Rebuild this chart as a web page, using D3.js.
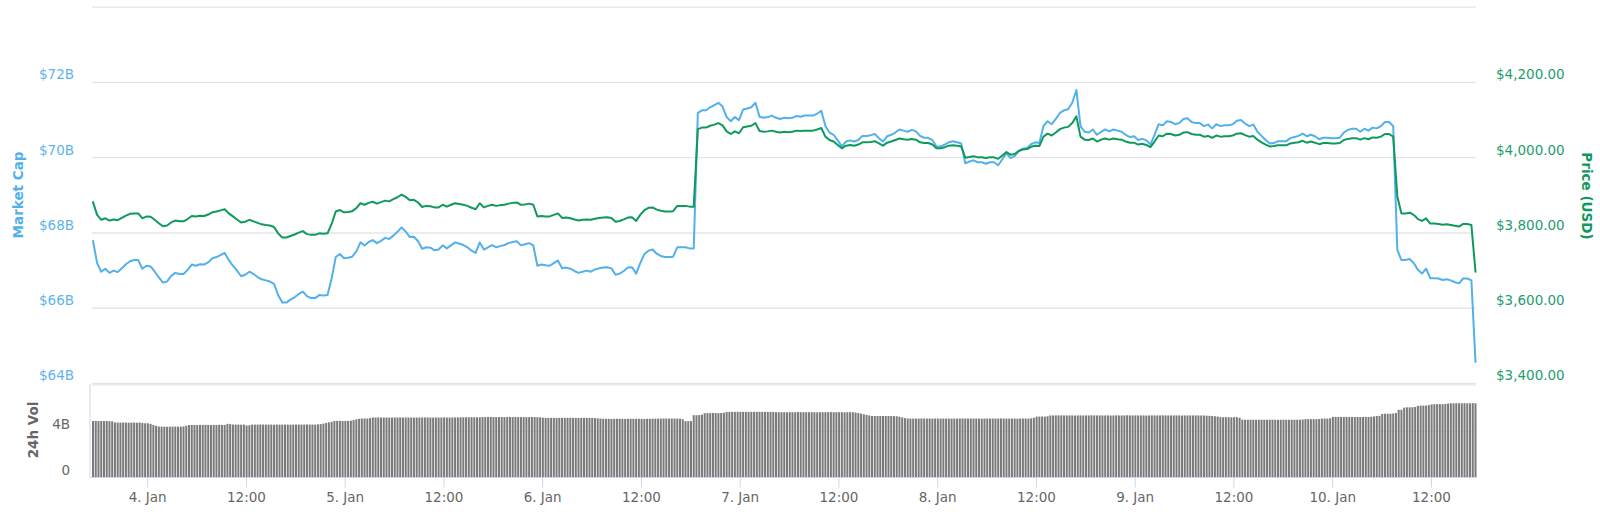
<!DOCTYPE html>
<html><head><meta charset="utf-8">
<script src="https://cdn.jsdelivr.net/npm/d3@7"></script>
<style>body{margin:0;background:#fff} svg{display:block}</style>
</head><body><svg id="c" width="1600" height="512"></svg>
<script>
const seriesStart = "2019-01-03T17:25:00Z";
const lineStepMinutes = 30;
const volStepMinutes = 20;

const priceUSD = [
3882,3848,3835,3839,3833,3836,3834,3840,3846,3851,
3852,3852,3839,3844,3843,3835,3826,3818,3820,3828,
3833,3831,3831,3837,3845,3844,3846,3845,3849,3855,
3857,3860,3863,3852,3844,3836,3828,3830,3835,3831,
3827,3823,3821,3820,3816,3799,3788,3788,3792,3796,
3801,3805,3797,3795,3795,3799,3798,3799,3824,3857,
3861,3855,3856,3858,3866,3879,3875,3880,3883,3878,
3882,3886,3884,3890,3895,3902,3896,3887,3888,3881,
3869,3872,3871,3868,3868,3875,3870,3875,3879,3877,
3875,3872,3867,3863,3879,3868,3872,3875,3872,3874,
3875,3878,3880,3881,3875,3876,3878,3875,3844,3845,
3844,3844,3848,3852,3840,3841,3839,3836,3833,3835,
3836,3835,3838,3840,3841,3842,3840,3830,3832,3836,
3841,3842,3832,3848,3861,3867,3868,3862,3859,3857,
3857,3858,3872,3872,3872,3870,3870,4076,4080,4080,
4085,4088,4092,4086,4070,4063,4070,4065,4081,4083,
4085,4092,4071,4069,4070,4072,4069,4067,4069,4068,
4069,4072,4071,4072,4072,4072,4075,4079,4056,4047,
4043,4034,4025,4032,4034,4032,4035,4041,4041,4042,
4044,4038,4032,4040,4043,4047,4051,4049,4048,4050,
4048,4041,4039,4039,4035,4025,4025,4028,4032,4033,
4032,4030,4000,4002,4004,4001,4001,3999,4001,4001,
3997,4006,4015,4008,4010,4018,4022,4023,4029,4032,
4031,4056,4064,4059,4067,4076,4080,4082,4092,4110,
4056,4048,4047,4051,4043,4048,4051,4048,4051,4049,
4048,4043,4040,4040,4035,4037,4034,4028,4043,4059,
4057,4064,4063,4059,4061,4067,4068,4063,4061,4061,
4056,4058,4053,4059,4056,4057,4057,4059,4064,4065,
4060,4056,4058,4048,4041,4035,4030,4031,4033,4033,
4033,4038,4040,4041,4045,4040,4043,4040,4036,4039,
4039,4038,4038,4039,4047,4050,4052,4052,4048,4052,
4049,4054,4053,4056,4063,4063,4056,3897,3852,3852,
3854,3848,3837,3832,3839,3825,3825,3824,3822,3823,
3821,3819,3817,3824,3824,3821,3697
];

const marketCapB = [
67.79,67.20,66.97,67.05,66.94,67.00,66.96,67.06,67.17,67.25,
67.28,67.28,67.05,67.13,67.11,66.97,66.82,66.68,66.71,66.86,
66.94,66.91,66.91,67.02,67.16,67.13,67.17,67.16,67.22,67.33,
67.36,67.41,67.47,67.28,67.13,67.00,66.85,66.89,66.97,66.91,
66.83,66.77,66.74,66.71,66.65,66.35,66.15,66.15,66.23,66.29,
66.38,66.44,66.32,66.27,66.27,66.35,66.34,66.35,66.79,67.36,
67.44,67.33,67.34,67.37,67.51,67.75,67.67,67.76,67.81,67.73,
67.79,67.87,67.84,67.93,68.03,68.15,68.04,67.89,67.90,67.78,
67.58,67.62,67.61,67.54,67.56,67.67,67.59,67.67,67.75,67.72,
67.68,67.62,67.53,67.47,67.75,67.56,67.62,67.68,67.62,67.65,
67.68,67.73,67.76,67.78,67.67,67.70,67.73,67.67,67.13,67.16,
67.14,67.13,67.20,67.27,67.06,67.08,67.05,66.99,66.94,66.97,
67.00,66.97,67.03,67.06,67.08,67.09,67.06,66.89,66.92,66.99,
67.08,67.09,66.92,67.20,67.44,67.53,67.56,67.45,67.39,67.36,
67.36,67.37,67.62,67.62,67.62,67.59,67.59,71.19,71.26,71.26,
71.34,71.40,71.46,71.36,71.08,70.97,71.08,71.00,71.28,71.31,
71.34,71.46,71.09,71.06,71.08,71.12,71.06,71.03,71.06,71.05,
71.06,71.11,71.09,71.12,71.12,71.12,71.17,71.25,70.84,70.67,
70.61,70.46,70.30,70.43,70.46,70.43,70.47,70.58,70.58,70.60,
70.63,70.52,70.43,70.57,70.61,70.67,70.75,70.72,70.69,70.74,
70.70,70.58,70.53,70.53,70.47,70.30,70.30,70.35,70.41,70.44,
70.41,70.38,69.85,69.90,69.93,69.88,69.88,69.84,69.88,69.88,
69.80,69.96,70.12,69.99,70.04,70.18,70.24,70.26,70.36,70.41,
70.39,70.84,70.97,70.89,71.03,71.19,71.26,71.29,71.46,71.80,
70.84,70.69,70.67,70.75,70.61,70.69,70.75,70.70,70.75,70.72,
70.69,70.61,70.55,70.57,70.47,70.50,70.46,70.35,70.61,70.89,
70.86,70.97,70.95,70.89,70.92,71.03,71.05,70.95,70.92,70.92,
70.84,70.88,70.78,70.89,70.84,70.86,70.86,70.89,70.98,71.00,
70.91,70.84,70.88,70.69,70.58,70.47,70.38,70.39,70.44,70.44,
70.44,70.52,70.55,70.58,70.64,70.57,70.61,70.57,70.49,70.53,
70.53,70.52,70.52,70.53,70.67,70.74,70.77,70.77,70.69,70.77,
70.72,70.80,70.78,70.84,70.95,70.95,70.84,67.55,67.28,67.28,
67.31,67.20,67.02,66.92,67.05,66.80,66.80,66.79,66.75,66.77,
66.74,66.69,66.66,66.79,66.79,66.74,64.57
];

const volumeB = [
4.87,4.88,4.87,4.87,4.86,4.87,4.86,4.84,4.74,4.73,
4.73,4.74,4.73,4.72,4.73,4.73,4.72,4.74,4.70,4.67,
4.67,4.62,4.52,4.45,4.39,4.38,4.38,4.37,4.38,4.38,
4.39,4.38,4.38,4.40,4.46,4.52,4.53,4.53,4.52,4.53,
4.53,4.54,4.53,4.52,4.53,4.53,4.54,4.53,4.53,4.62,
4.60,4.56,4.56,4.56,4.55,4.56,4.48,4.50,4.56,4.56,
4.56,4.57,4.56,4.56,4.56,4.56,4.55,4.56,4.56,4.56,
4.56,4.56,4.55,4.56,4.56,4.56,4.56,4.56,4.57,4.56,
4.56,4.56,4.58,4.60,4.64,4.70,4.75,4.80,4.87,4.88,
4.88,4.87,4.88,4.88,4.90,4.95,5.02,5.06,5.08,5.09,
5.08,5.12,5.17,5.17,5.18,5.17,5.17,5.17,5.16,5.17,
5.17,5.17,5.18,5.17,5.17,5.17,5.17,5.16,5.17,5.17,
5.17,5.18,5.17,5.17,5.17,5.17,5.17,5.17,5.18,5.17,
5.17,5.17,5.18,5.18,5.19,5.19,5.19,5.19,5.20,5.19,
5.19,5.19,5.21,5.21,5.21,5.22,5.21,5.21,5.21,5.21,
5.21,5.21,5.22,5.21,5.21,5.21,5.21,5.20,5.21,5.21,
5.21,5.21,5.20,5.19,5.15,5.14,5.14,5.14,5.13,5.14,
5.14,5.14,5.14,5.15,5.14,5.14,5.14,5.13,5.14,5.14,
5.14,5.14,5.13,5.12,5.10,5.08,5.06,5.06,5.06,5.05,
5.06,5.06,5.06,5.06,5.05,5.06,5.06,5.06,5.06,5.06,
5.06,5.05,5.06,5.06,5.07,5.07,5.07,5.08,5.08,5.08,
5.08,5.08,5.08,5.08,5.06,5.02,4.85,4.85,4.86,5.37,
5.37,5.38,5.42,5.55,5.55,5.55,5.56,5.55,5.55,5.56,
5.58,5.66,5.66,5.66,5.66,5.67,5.66,5.66,5.66,5.66,
5.66,5.67,5.66,5.66,5.66,5.66,5.65,5.66,5.65,5.63,
5.63,5.63,5.63,5.62,5.63,5.63,5.63,5.64,5.63,5.63,
5.63,5.63,5.63,5.63,5.62,5.63,5.63,5.63,5.63,5.64,
5.63,5.63,5.63,5.63,5.62,5.63,5.63,5.63,5.60,5.56,
5.50,5.45,5.40,5.35,5.30,5.30,5.30,5.31,5.30,5.30,
5.30,5.30,5.29,5.28,5.24,5.18,5.12,5.08,5.08,5.08,
5.08,5.08,5.09,5.08,5.08,5.08,5.07,5.08,5.08,5.08,
5.08,5.08,5.08,5.07,5.08,5.08,5.08,5.09,5.08,5.08,
5.08,5.08,5.08,5.08,5.07,5.08,5.08,5.08,5.08,5.08,
5.08,5.09,5.08,5.08,5.08,5.08,5.08,5.07,5.08,5.08,
5.08,5.08,5.10,5.15,5.25,5.25,5.26,5.25,5.28,5.35,
5.35,5.35,5.35,5.36,5.35,5.35,5.35,5.35,5.34,5.35,
5.35,5.35,5.35,5.35,5.36,5.35,5.35,5.35,5.35,5.35,
5.35,5.34,5.35,5.35,5.35,5.35,5.35,5.36,5.35,5.35,
5.35,5.35,5.35,5.35,5.34,5.35,5.35,5.35,5.35,5.35,
5.36,5.35,5.35,5.35,5.35,5.35,5.35,5.34,5.35,5.35,
5.35,5.35,5.35,5.35,5.35,5.34,5.33,5.32,5.30,5.28,
5.25,5.20,5.20,5.20,5.20,5.19,5.20,5.20,5.15,4.99,
4.98,4.98,4.98,4.98,4.97,4.98,4.98,4.98,4.98,4.98,
4.98,4.98,4.97,4.98,4.98,4.98,4.98,4.98,4.98,4.98,
4.98,5.00,5.03,5.03,5.03,5.03,5.03,5.04,5.08,5.08,
5.08,5.10,5.22,5.22,5.22,5.22,5.22,5.23,5.22,5.22,
5.22,5.22,5.22,5.22,5.22,5.22,5.24,5.26,5.30,5.32,
5.48,5.50,5.50,5.50,5.52,5.55,5.84,5.84,6.02,6.05,
6.05,6.06,6.08,6.18,6.20,6.20,6.21,6.24,6.30,6.32,
6.32,6.33,6.32,6.34,6.38,6.40,6.40,6.41,6.40,6.40,
6.41,6.40,6.40,6.42,6.40
];

const capTicks = [64, 66, 68, 70, 72, 74];
const capLabelTicks = [64, 66, 68, 70, 72];
const priceTicks = [3400, 3600, 3800, 4000, 4200, 4400];
const priceLabelTicks = [3400, 3600, 3800, 4000, 4200];
const volTicks = [0, 4, 8];
const volLabelTicks = [0, 4];
const xTickTimes = [
  "2019-01-04T00:00:00Z","2019-01-04T12:00:00Z","2019-01-05T00:00:00Z","2019-01-05T12:00:00Z",
  "2019-01-06T00:00:00Z","2019-01-06T12:00:00Z","2019-01-07T00:00:00Z","2019-01-07T12:00:00Z",
  "2019-01-08T00:00:00Z","2019-01-08T12:00:00Z","2019-01-09T00:00:00Z","2019-01-09T12:00:00Z",
  "2019-01-10T00:00:00Z","2019-01-10T12:00:00Z"
];
const xTickLabels = ["4. Jan","12:00","5. Jan","12:00","6. Jan","12:00","7. Jan","12:00",
  "8. Jan","12:00","9. Jan","12:00","10. Jan","12:00"];

// ---- layout / style ----
const FONT = "'DejaVu Sans', Verdana, sans-serif";
const FS = 13.5;
const BLUE = "#52b0ea", BLUE_T = "#5fb4ec";
const GREEN = "#0e9a5c", GREEN_T = "#1f9d6c";
const GRID = "#e6e6e6", AXIS = "#ccd6eb", TXT = "#666";

const svg = d3.select("#c");
const t0 = new Date(seriesStart).getTime();
const lineTimes = priceUSD.map((_, i) => new Date(t0 + i * lineStepMinutes * 60000));
const volTimes = volumeB.map((_, i) => new Date(t0 + i * volStepMinutes * 60000));

const x = d3.scaleUtc()
  .domain([lineTimes[0], lineTimes[lineTimes.length - 1]])
  .range([93, 1475.5]);
const gridX0 = 92, gridX1 = 1476;

const yCap = d3.scaleLinear().domain([64, 74]).range([383.5, 7.2]);
const yPrice = d3.scaleLinear().domain([3400, 4400]).range([383.5, 7.2]);
const yVol = d3.scaleLinear().domain([0, 8]).range([477.3, 384.8]);

// gridlines main pane
svg.append("g").selectAll("line").data(capTicks).join("line")
  .attr("x1", gridX0).attr("x2", gridX1)
  .attr("y1", d => yCap(d)).attr("y2", d => yCap(d))
  .attr("stroke", GRID).attr("stroke-width", 1.3);

// gridlines volume pane
svg.append("g").selectAll("line").data(volTicks.filter(v => v > 0)).join("line")
  .attr("x1", gridX0).attr("x2", gridX1)
  .attr("y1", d => yVol(d)).attr("y2", d => yVol(d))
  .attr("stroke", GRID).attr("stroke-width", 1.3);

// volume bars
const barW = 2.0;
svg.append("g").selectAll("rect").data(volumeB).join("rect")
  .attr("x", (d, i) => x(volTimes[i]) - barW / 2)
  .attr("width", barW)
  .attr("y", d => yVol(d))
  .attr("height", d => yVol(0) - yVol(d))
  .attr("fill", "#7a7a7a");

// volume pane left axis line & bottom axis line
svg.append("line").attr("x1", 90).attr("x2", 90).attr("y1", 384).attr("y2", 477.5)
  .attr("stroke", AXIS).attr("stroke-width", 1);

// lines
const capLine = d3.line().x((d, i) => x(lineTimes[i])).y(d => yCap(d));
const priceLine = d3.line().x((d, i) => x(lineTimes[i])).y(d => yPrice(d));
svg.append("path").datum(marketCapB).attr("d", capLine)
  .attr("fill", "none").attr("stroke", BLUE).attr("stroke-width", 2)
  .attr("stroke-linejoin", "round").attr("stroke-linecap", "round");
svg.append("path").datum(priceUSD).attr("d", priceLine)
  .attr("fill", "none").attr("stroke", GREEN).attr("stroke-width", 2)
  .attr("stroke-linejoin", "round").attr("stroke-linecap", "round");

// x axis
const xAxis = d3.axisBottom(x)
  .tickValues(xTickTimes.map(s => new Date(s)))
  .tickSize(10).tickSizeOuter(0)
  .tickFormat((d, i) => xTickLabels[i]);
const gx = svg.append("g").attr("transform", "translate(0,477.5)").call(xAxis);
gx.select(".domain").remove();
gx.selectAll(".tick line").attr("stroke", AXIS);
gx.selectAll(".tick text").attr("y", 15).attr("fill", TXT)
  .style("font-family", FONT).style("font-size", FS + "px");
svg.append("line").attr("x1", 90).attr("x2", gridX1).attr("y1", 477.5).attr("y2", 477.5)
  .attr("stroke", AXIS).attr("stroke-width", 1);

// left axis (market cap)
const capAxis = d3.axisLeft(yCap).tickValues(capLabelTicks).tickSize(0)
  .tickFormat(d => "$" + d + "B");
const gl = svg.append("g").attr("transform", "translate(77,0)").call(capAxis);
gl.select(".domain").remove();
gl.selectAll(".tick text").attr("dy", "-3.7px").attr("fill", BLUE_T)
  .style("font-family", FONT).style("font-size", FS + "px");

// right axis (price)
const priceAxis = d3.axisRight(yPrice).tickValues(priceLabelTicks).tickSize(0)
  .tickFormat(d => "$" + d3.format(",.2f")(d));
const gr = svg.append("g").attr("transform", "translate(1493,0)").call(priceAxis);
gr.select(".domain").remove();
gr.selectAll(".tick text").attr("dy", "-3.7px").attr("fill", GREEN_T)
  .style("font-family", FONT).style("font-size", FS + "px");

// volume axis
const volAxis = d3.axisLeft(yVol).tickValues(volLabelTicks).tickSize(0)
  .tickFormat(d => d === 0 ? "0" : d + "B");
const gv = svg.append("g").attr("transform", "translate(73,0)").call(volAxis);
gv.select(".domain").remove();
gv.selectAll(".tick text").attr("dy", "-2.5px").attr("fill", TXT)
  .style("font-family", FONT).style("font-size", FS + "px");

// axis titles
svg.append("text").text("Market Cap")
  .attr("transform", "translate(18,195) rotate(-90)")
  .attr("text-anchor", "middle").attr("dominant-baseline", "central")
  .attr("fill", BLUE).style("font-family", FONT).style("font-size", FS + "px")
  .style("font-weight", "bold");
svg.append("text").text("Price (USD)")
  .attr("transform", "translate(1587,196) rotate(90)")
  .attr("text-anchor", "middle").attr("dominant-baseline", "central")
  .attr("fill", GREEN).style("font-family", FONT).style("font-size", FS + "px")
  .style("font-weight", "bold");
svg.append("text").text("24h Vol")
  .attr("transform", "translate(33,430) rotate(-90)")
  .attr("text-anchor", "middle").attr("dominant-baseline", "central")
  .attr("fill", TXT).style("font-family", FONT).style("font-size", FS + "px")
  .style("font-weight", "bold");
</script>
</body></html>
